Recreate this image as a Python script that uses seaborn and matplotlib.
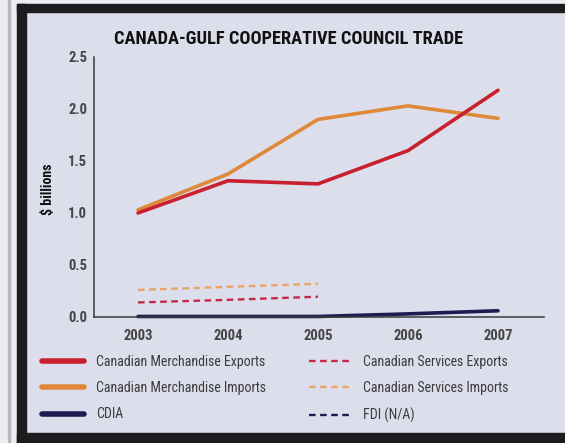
import matplotlib
matplotlib.use("Agg")
import matplotlib.pyplot as plt
from matplotlib import font_manager as fm
from matplotlib.lines import Line2D
from matplotlib.patches import Rectangle
import seaborn as sns
import pandas as pd

# ---- data ----
years = [2003, 2004, 2005, 2006, 2007]
merch_exports = [1.00, 1.31, 1.28, 1.60, 2.18]
merch_imports = [1.03, 1.375, 1.90, 2.03, 1.91]
cdia = [0.005, 0.005, 0.005, 0.03, 0.06]
svc_years = [2003, 2004, 2005]
svc_exports = [0.14, 0.165, 0.195]
svc_imports = [0.26, 0.29, 0.32]
yticks = [0.0, 0.5, 1.0, 1.5, 2.0, 2.5]
title = "CANADA-GULF COOPERATIVE COUNCIL TRADE"
ylabel = "$ billions"

sns.set_style("white")

# choose a condensed sans if one is installed
names = {f.name for f in fm.fontManager.ttflist}
stretch_ok = any(f.name == "DejaVu Sans" and "condensed" in str(f.stretch)
                 for f in fm.fontManager.ttflist)
pref = ["Liberation Sans Narrow", "Roboto Condensed", "Open Sans Condensed",
        "DejaVu Sans Condensed"]
fam = next((n for n in pref if n in names), None)
if fam is None:
    if stretch_ok:
        fam = "DejaVu Sans"
        plt.rcParams["font.stretch"] = "condensed"
    else:
        fam = "Liberation Sans"
plt.rcParams['font.family'] = [fam, 'DejaVu Sans']

BG = "#dcdeec"
W, H = 565, 443
fig = plt.figure(figsize=(W / 100, H / 100), dpi=100, facecolor=BG)

def frect(x0, y0, x1, y1, color):
    fig.patches.append(Rectangle((x0 / W, 1 - y1 / H), (x1 - x0) / W, (y1 - y0) / H,
                                 transform=fig.transFigure, color=color, zorder=0))

# scan frame
frect(0, 0, 17, 443, "#ececf2")
frect(0, 0, 565, 4, "#ececf2")
frect(8, 0, 10, 443, "#b8b8c0")
frect(17, 4, 565, 12, "#1c1c1e")
frect(17, 4, 26, 443, "#1c1c1e")
frect(17, 433, 565, 443, "#1c1c1e")

ax = fig.add_axes([94 / W, 1 - 317 / H, 450 / W, 260 / H])
ax.set_facecolor(BG)

RED = "#c8202e"
ORANGE = "#e0883a"
NAVY = "#1f1a52"
RED_D = "#c42a48"
ORANGE_D = "#eba466"
DASH = (0, (2.8, 1.9))

df_m = pd.DataFrame({"year": years, "exp": merch_exports, "imp": merch_imports, "cdia": cdia})
df_s = pd.DataFrame({"year": svc_years, "exp": svc_exports, "imp": svc_imports})

sns.lineplot(data=df_s, x="year", y="imp", ax=ax, color=ORANGE_D, lw=1.7, linestyle=DASH)
sns.lineplot(data=df_s, x="year", y="exp", ax=ax, color=RED_D, lw=1.7, linestyle=DASH)
sns.lineplot(data=df_m, x="year", y="imp", ax=ax, color=ORANGE, lw=2.6)
sns.lineplot(data=df_m, x="year", y="exp", ax=ax, color=RED, lw=2.6)
sns.lineplot(data=df_m, x="year", y="cdia", ax=ax, color=NAVY, lw=2.6, clip_on=False)

ax.set_xlim(2003 - 44 / 90, 2007 + 46 / 90)
ax.set_ylim(0, 2.5)
ax.set_xticks(years)
ax.set_xticklabels([str(y) for y in years])
ax.set_yticks(yticks)
ax.set_yticklabels([f"{v:.1f}" for v in yticks])
ax.set_xlabel("")
ax.set_ylabel("")
for s in ["top", "right"]:
    ax.spines[s].set_visible(False)
for s in ["left", "bottom"]:
    ax.spines[s].set_color("#3a3a3a")
    ax.spines[s].set_linewidth(1.1)
ax.tick_params(axis="y", direction="in", length=8, width=1.1, color="#3a3a3a",
               pad=5, labelsize=10.5, labelcolor="#454545")
ax.tick_params(axis="x", direction="in", length=4, width=1.0, color="#3a3a3a",
               pad=9, labelsize=10.5, labelcolor="#454545")
for lab in ax.get_xticklabels() + ax.get_yticklabels():
    lab.set_fontweight("bold")

fig.text(289 / W, 1 - 39 / H, title, ha="center", va="center",
         fontsize=13.2, fontweight="bold", color="#111111")
fig.text(48 / W, 1 - 189 / H, ylabel, ha="center", va="center", rotation=90,
         fontsize=10, fontweight="bold", color="#111111")

handles = [
    Line2D([], [], color=RED, lw=4, solid_capstyle="round"),
    Line2D([], [], color=ORANGE, lw=4, solid_capstyle="round"),
    Line2D([], [], color=NAVY, lw=4, solid_capstyle="round"),
    Line2D([], [], color=RED_D, lw=1.7, linestyle=DASH),
    Line2D([], [], color=ORANGE_D, lw=1.7, linestyle=DASH),
    Line2D([], [], color=NAVY, lw=1.7, linestyle=DASH),
]
labels = ["Canadian Merchandise Exports", "Canadian Merchandise Imports", "CDIA",
          "Canadian Services Exports", "Canadian Services Imports", "FDI (N/A)"]
leg = fig.legend(handles, labels, ncol=2, loc="upper left",
                 bbox_to_anchor=(42 / W, 1 - 355 / H), frameon=False,
                 fontsize=10, handlelength=3.0, handletextpad=0.9,
                 columnspacing=3.1, labelspacing=0.88, borderpad=0, borderaxespad=0)
for t in leg.get_texts():
    t.set_color("#3c3c3c")

fig.savefig("out.png", dpi=100, facecolor=BG)
